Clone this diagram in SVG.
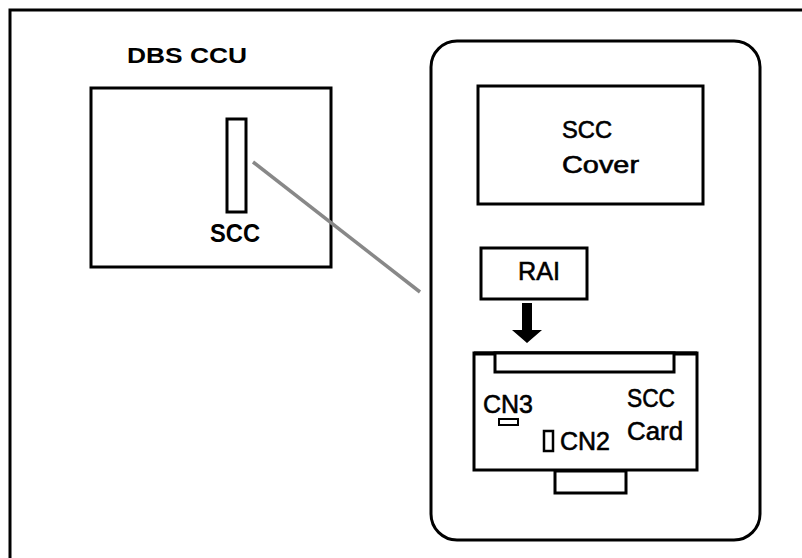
<svg xmlns="http://www.w3.org/2000/svg" width="802" height="558" viewBox="0 0 802 558">
<style>
.box{fill:#fff;stroke:#000;stroke-width:3}
.t{font-family:"Liberation Sans",Arial,sans-serif;fill:#000}
.r{stroke:#000;stroke-width:0.6}
.b{font-weight:bold}
</style>
<rect width="802" height="558" fill="#fff"/>
<g id="frame">
<path d="M10,558 V10 H802" fill="none" stroke="#000" stroke-width="3"/>
</g>
<g id="dbs-ccu">
<text class="t b" x="127" y="63" font-size="22" textLength="120" lengthAdjust="spacingAndGlyphs">DBS CCU</text>
<rect class="box" x="91" y="88" width="240" height="179"/>
</g>
<g id="scc-slot">
<rect class="box" x="227" y="119" width="19" height="93"/>
<text class="t b" x="210" y="242" font-size="25" textLength="50" lengthAdjust="spacingAndGlyphs">SCC</text>
</g>
<g id="unit">
<rect class="box" x="431" y="41" width="329" height="499" rx="26" ry="26"/>
</g>
<g id="scc-cover">
<rect class="box" x="478" y="86" width="225" height="118"/>
<text class="t r" x="562" y="138" font-size="24" textLength="50" lengthAdjust="spacingAndGlyphs">SCC</text>
<text class="t r" x="562" y="173" font-size="24" textLength="77" lengthAdjust="spacingAndGlyphs">Cover</text>
</g>
<g id="rai">
<rect class="box" x="481" y="248" width="106" height="51"/>
<text class="t r" x="518" y="280" font-size="26" textLength="42" lengthAdjust="spacingAndGlyphs">RAI</text>
</g>
<g id="scc-card">
<rect class="box" x="474" y="353" width="223" height="117"/>
<line x1="474" y1="353.5" x2="697" y2="353.5" stroke="#000" stroke-width="4"/>
<rect class="box" x="495" y="353" width="179" height="19"/>
<rect class="box" x="555" y="471" width="71" height="22"/>
<rect x="499" y="419" width="19" height="6" fill="#fff" stroke="#000" stroke-width="2"/>
<rect x="544" y="431" width="9" height="20" fill="#fff" stroke="#000" stroke-width="2.5"/>
<text class="t r" x="483" y="413" font-size="26" textLength="50" lengthAdjust="spacingAndGlyphs">CN3</text>
<text class="t r" x="560" y="450" font-size="26" textLength="50" lengthAdjust="spacingAndGlyphs">CN2</text>
<text class="t r" x="627" y="407" font-size="26" textLength="48" lengthAdjust="spacingAndGlyphs">SCC</text>
<text class="t r" x="627" y="440" font-size="26" textLength="56" lengthAdjust="spacingAndGlyphs">Card</text>
</g>
<g id="connectors">
<line x1="253" y1="162" x2="420" y2="292" stroke="#888" stroke-width="3.5"/>
<path d="M522,303 H532 V330 H542 L527,343 L512,330 H522 Z" fill="#000"/>
</g>
</svg>
